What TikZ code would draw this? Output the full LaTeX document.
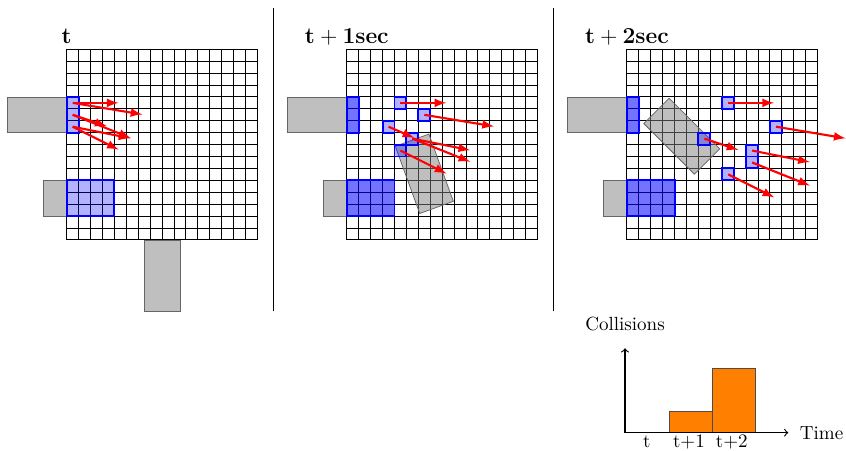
\documentclass[tikz,border=0pt]{standalone}
\begin{document}
\begin{tikzpicture}[x=0.22cm,y=0.22cm,
  block/.style={draw=black!60,fill=gray,fill opacity=0.5},
  lightcell/.style={draw=blue,line width=1pt,fill=blue,fill opacity=0.3},
  darkcell/.style={draw=blue,line width=1pt,fill=blue,fill opacity=0.55},
  move/.style={draw=red,line width=1.1pt,-latex,shorten >=1pt},
  gridlines/.style={line width=0.5pt,step=0.22cm},
  title/.style={anchor=base,font=\large},
  bar/.style={draw=black!70,fill=orange}]
\useasboundingbox (-5.6,-17.7) rectangle (65.38,20.13);

\draw (17.31,-6)--(17.31,19.46);
\draw (40.8,-6)--(40.8,19.46);

\begin{scope}
\draw[block] (-5,9) rectangle (0,12);
\draw[block] (-2,2) rectangle (0,5);
\draw[block] (6.5,-6) rectangle (9.5,0);
\draw[gridlines] (0,0) grid (16,16);
\draw[lightcell] (0,9) rectangle (1,12);
\draw[lightcell] (0,2) rectangle (4,5);
\draw[move] (0.5,11.5)--(4.5,11.5);
\draw[move] (0.5,11.5)--(6.5,10.5);
\draw[move] (0.5,10.5)--(3.5,9.5);
\draw[move] (0.5,10.5)--(5.5,8.5);
\draw[move] (0.5,9.5)--(5.5,8.5);
\draw[move] (0.5,9.5)--(4.5,7.5);
\node[title] (tnow) at (0,16.45) {$\mathbf{t}$};
\end{scope}

\begin{scope}[shift={(23.5,0)}]
\draw[block] (-5,9) rectangle (0,12);
\draw[block] (-2,2) rectangle (0,5);
\draw[gridlines] (0,0) grid (16,16);
\draw[block,rotate around={20:(6.5,5.55)}] (5,2.55) rectangle (8,8.55);
\draw[darkcell] (0,9) rectangle (1,12);
\draw[darkcell] (0,2) rectangle (4,5);
\draw[lightcell] (4,11) rectangle (5,12);
\draw[lightcell] (6,10) rectangle (7,11);
\draw[lightcell] (3,9) rectangle (4,10);
\draw[lightcell] (5,8) rectangle (6,9);
\draw[lightcell] (4,7) rectangle (5,8);
\draw[move] (4.5,11.5)--(8.5,11.5);
\draw[move] (6.5,10.5)--(12.5,9.5);
\draw[move] (3.5,9.5)--(5.8,8.5);
\draw[move] (5.5,8.5)--(10.5,7.5);
\draw[move] (5.5,8.5)--(10.5,6.5);
\draw[move] (4.5,7.5)--(8.5,5.5);
\node[title] (tone) at (0,16.45) {$\mathbf{t + 1sec}$};
\end{scope}

\begin{scope}[shift={(47,0)}]
\draw[block] (-5,9) rectangle (0,12);
\draw[block] (-2,2) rectangle (0,5);
\draw[gridlines] (0,0) grid (16,16);
\draw[block,rotate around={45:(4.6,8.7)}] (3.1,5.7) rectangle (6.1,11.7);
\draw[darkcell] (0,9) rectangle (1,12);
\draw[darkcell] (0,2) rectangle (4,5);
\draw[lightcell] (8,11) rectangle (9,12);
\draw[lightcell] (12,9) rectangle (13,10);
\draw[lightcell] (6,8) rectangle (7,9);
\draw[lightcell] (10,7) rectangle (11,8);
\draw[lightcell] (10,6) rectangle (11,7);
\draw[lightcell] (8,5) rectangle (9,6);
\draw[move] (8.5,11.5)--(12.5,11.5);
\draw[move] (12.5,9.5)--(18.5,8.5);
\draw[move] (6.5,8.5)--(9.5,7.5);
\draw[move] (10.5,7.5)--(15.5,6.5);
\draw[move] (10.5,6.5)--(15.5,4.5);
\draw[move] (8.5,5.5)--(12.5,3.5);
\node[title] (ttwo) at (0,16.45) {$\mathbf{t + 2sec}$};
\end{scope}

\coordinate (origin) at (46.84,-16.17);
\coordinate (ytop) at (46.84,-9.09);
\coordinate (xend) at (60.54,-16.17);
\draw[bar] (50.53,-16.17) rectangle (54.19,-14.4);
\draw[bar] (54.19,-16.17) rectangle (57.8,-10.76);
\draw[semithick,->] (origin)--(ytop);
\draw[semithick,->] (origin)--(xend);
\node[anchor=base] (ylabel) at (46.84,-7.63) {Collisions};
\node[anchor=base west] (xlabel) at (60.95,-16.78) {Time};
\node[anchor=base] (tick0) at (48.66,-17.45) {t};
\node[anchor=base] (tick1) at (52.2,-17.45) {t+1};
\node[anchor=base] (tick2) at (55.8,-17.45) {t+2};
\end{tikzpicture}
\end{document}
